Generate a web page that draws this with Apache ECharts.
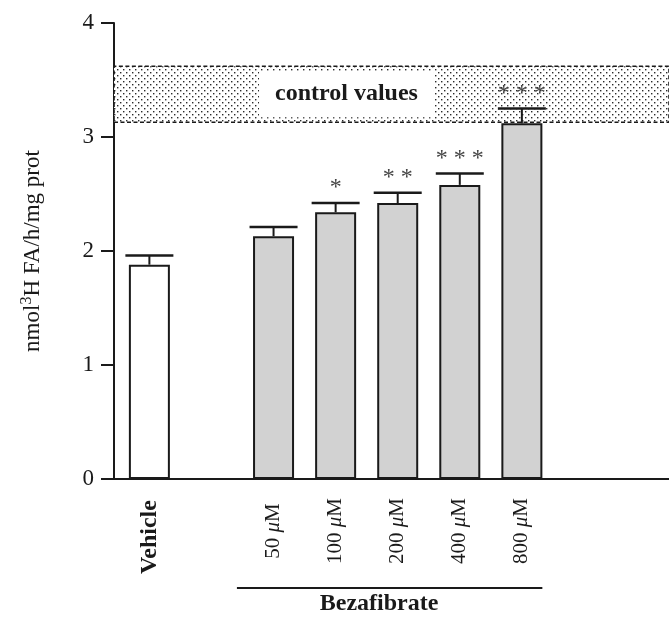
<!DOCTYPE html>
<html>
<head>
<meta charset="utf-8">
<script src="https://cdn.jsdelivr.net/npm/echarts@6/dist/echarts.min.js"></script>
<style>
html,body{margin:0;padding:0;background:#fff;}
#chart{width:669px;height:621px;}
</style>
</head>
<body>
<div id="chart"></div>
<script>
// ---- data ----
const categories = ['Vehicle', '', '50 μM', '100 μM', '200 μM', '400 μM', '800 μM'];
const means      = [1.88, null, 2.13, 2.34, 2.42, 2.58, 3.12];
const sems       = [0.08, null, 0.08, 0.08, 0.09, 0.10, 0.13];
const stars      = ['', '', '', '*', '* *', '* * *', '* * *'];
const controlBand = [3.13, 3.62];
const yTicks = [0, 1, 2, 3, 4];
const groupLabel = 'Bezafibrate';
const yTitle = ['nmol', '3', 'H FA/h/mg prot'];

// ---- styling helpers ----
const SERIF = '"Liberation Serif","DejaVu Serif",serif';
const INK = '#1a1a1a';

function dotPattern() {
  const c = document.createElement('canvas');
  c.width = 6; c.height = 6;
  const g = c.getContext('2d');
  g.fillStyle = '#ffffff'; g.fillRect(0, 0, 6, 6);
  g.fillStyle = '#2a2a2a';
  g.fillRect(0, 0, 1.4, 1.4);
  g.fillRect(3, 3, 1.4, 1.4);
  return c;
}

const barData = [];
const errData = [];
categories.forEach((c, i) => {
  if (means[i] == null) return;
  barData.push({
    value: [i, means[i]],
    itemStyle: { color: i === 0 ? '#ffffff' : '#d2d2d2', borderColor: INK, borderWidth: 2 }
  });
  errData.push([i, means[i], sems[i], stars[i]]);
});

const labelIdx = categories.map((c, i) => c ? i : null).filter(v => v !== null);

const chart = echarts.init(document.getElementById('chart'), null, { renderer: 'canvas' });

const option = {
  animation: false,
  backgroundColor: '#ffffff',
  grid: { left: 114, right: 0, top: 23, bottom: 142, containLabel: false },
  xAxis: {
    type: 'value',
    min: -0.57,
    max: 8.37,
    splitLine: { show: false },
    axisTick: { show: false },
    axisLine: { show: true, onZero: false, lineStyle: { color: INK, width: 2 } },
    axisLabel: {
      customValues: labelIdx,
      rotate: 90,
      margin: 52,
      align: 'center',
      verticalAlign: 'middle',
      formatter: function (v) {
        const name = categories[Math.round(v)] || '';
        if (name === 'Vehicle') return '{b|' + name + '}';
        const parts = name.split(' ');
        return '{n|' + parts[0] + ' }{mu|μ}{n|M}';
      },
      rich: {
        b: { fontFamily: SERIF, fontSize: 24, fontWeight: 'bold', color: INK, padding: [0, 12, 0, 0] },
        n: { fontFamily: SERIF, fontSize: 21, color: INK },
        mu: { fontFamily: SERIF, fontSize: 21, fontStyle: 'italic', color: INK }
      }
    }
  },
  yAxis: {
    type: 'value',
    min: yTicks[0],
    max: yTicks[yTicks.length - 1],
    interval: 1,
    splitLine: { show: false },
    axisLine: { show: true, onZero: false, lineStyle: { color: INK, width: 2 } },
    axisTick: { show: true, inside: false, length: 13, lineStyle: { color: INK, width: 2 } },
    axisLabel: { margin: 20, fontFamily: SERIF, fontSize: 23, color: INK },
    name: '{a|' + yTitle[0] + '}{s|' + yTitle[1] + '}{a|' + yTitle[2] + '}',
    nameLocation: 'middle',
    nameGap: 67,
    nameRotate: 90,
    nameTextStyle: {
      rich: {
        a: { fontFamily: SERIF, fontSize: 23, color: INK },
        s: { fontFamily: SERIF, fontSize: 16, color: INK, verticalAlign: 'top', padding: [0, 0, 12, 0] }
      }
    }
  },
  series: [
    {
      type: 'line',
      data: [],
      z: 1,
      silent: true,
      markArea: {
        silent: true,
        itemStyle: {
          color: { image: dotPattern(), repeat: 'repeat' },
          borderColor: INK,
          borderWidth: 1.6,
          borderType: [4, 2.5]
        },
        label: {
          show: true,
          position: 'inside',
          offset: [-45, 0],
          formatter: 'control values',
          fontFamily: SERIF,
          fontSize: 24,
          fontWeight: 'bold',
          color: INK,
          backgroundColor: '#ffffff',
          padding: [11, 16, 11, 16]
        },
        data: [[{ yAxis: controlBand[0] }, { yAxis: controlBand[1] }]]
      }
    },
    {
      type: 'bar',
      z: 3,
      barWidth: 41,
      data: barData
    },
    {
      type: 'custom',
      z: 4,
      data: errData,
      renderItem: function (params, api) {
        const x = api.value(0), m = api.value(1), e = api.value(2);
        const s = errData[params.dataIndex][3];
        const p0 = api.coord([x, m]);
        const p1 = api.coord([x, m + e]);
        const hw = 24;
        const children = [
          { type: 'line', shape: { x1: p0[0], y1: p0[1], x2: p1[0], y2: p1[1] }, style: { stroke: INK, lineWidth: 2 } },
          { type: 'line', shape: { x1: p1[0] - hw, y1: p1[1], x2: p1[0] + hw, y2: p1[1] }, style: { stroke: INK, lineWidth: 2.5 } }
        ];
        if (s) {
          children.push({
            type: 'text',
            style: {
              text: s, x: p1[0], y: p1[1] - 3,
              align: 'center', verticalAlign: 'bottom',
              fontFamily: SERIF, fontSize: 24, fill: '#444'
            }
          });
        }
        return { type: 'group', children: children };
      }
    }
  ]
};

chart.setOption(option);

// group annotation beneath the concentration labels
const gx0 = chart.convertToPixel({ xAxisIndex: 0 }, 1.41);
const gx1 = chart.convertToPixel({ xAxisIndex: 0 }, 6.33);
const gxc = chart.convertToPixel({ xAxisIndex: 0 }, 3.7);
chart.setOption({
  graphic: [
    { type: 'line', shape: { x1: gx0, y1: 588, x2: gx1, y2: 588 }, style: { stroke: INK, lineWidth: 2 } },
    { type: 'text', x: gxc, y: 604, style: { text: groupLabel, align: 'center', verticalAlign: 'middle', fontFamily: SERIF, fontSize: 24, fontWeight: 'bold', fill: INK } }
  ]
});
</script>
</body>
</html>
